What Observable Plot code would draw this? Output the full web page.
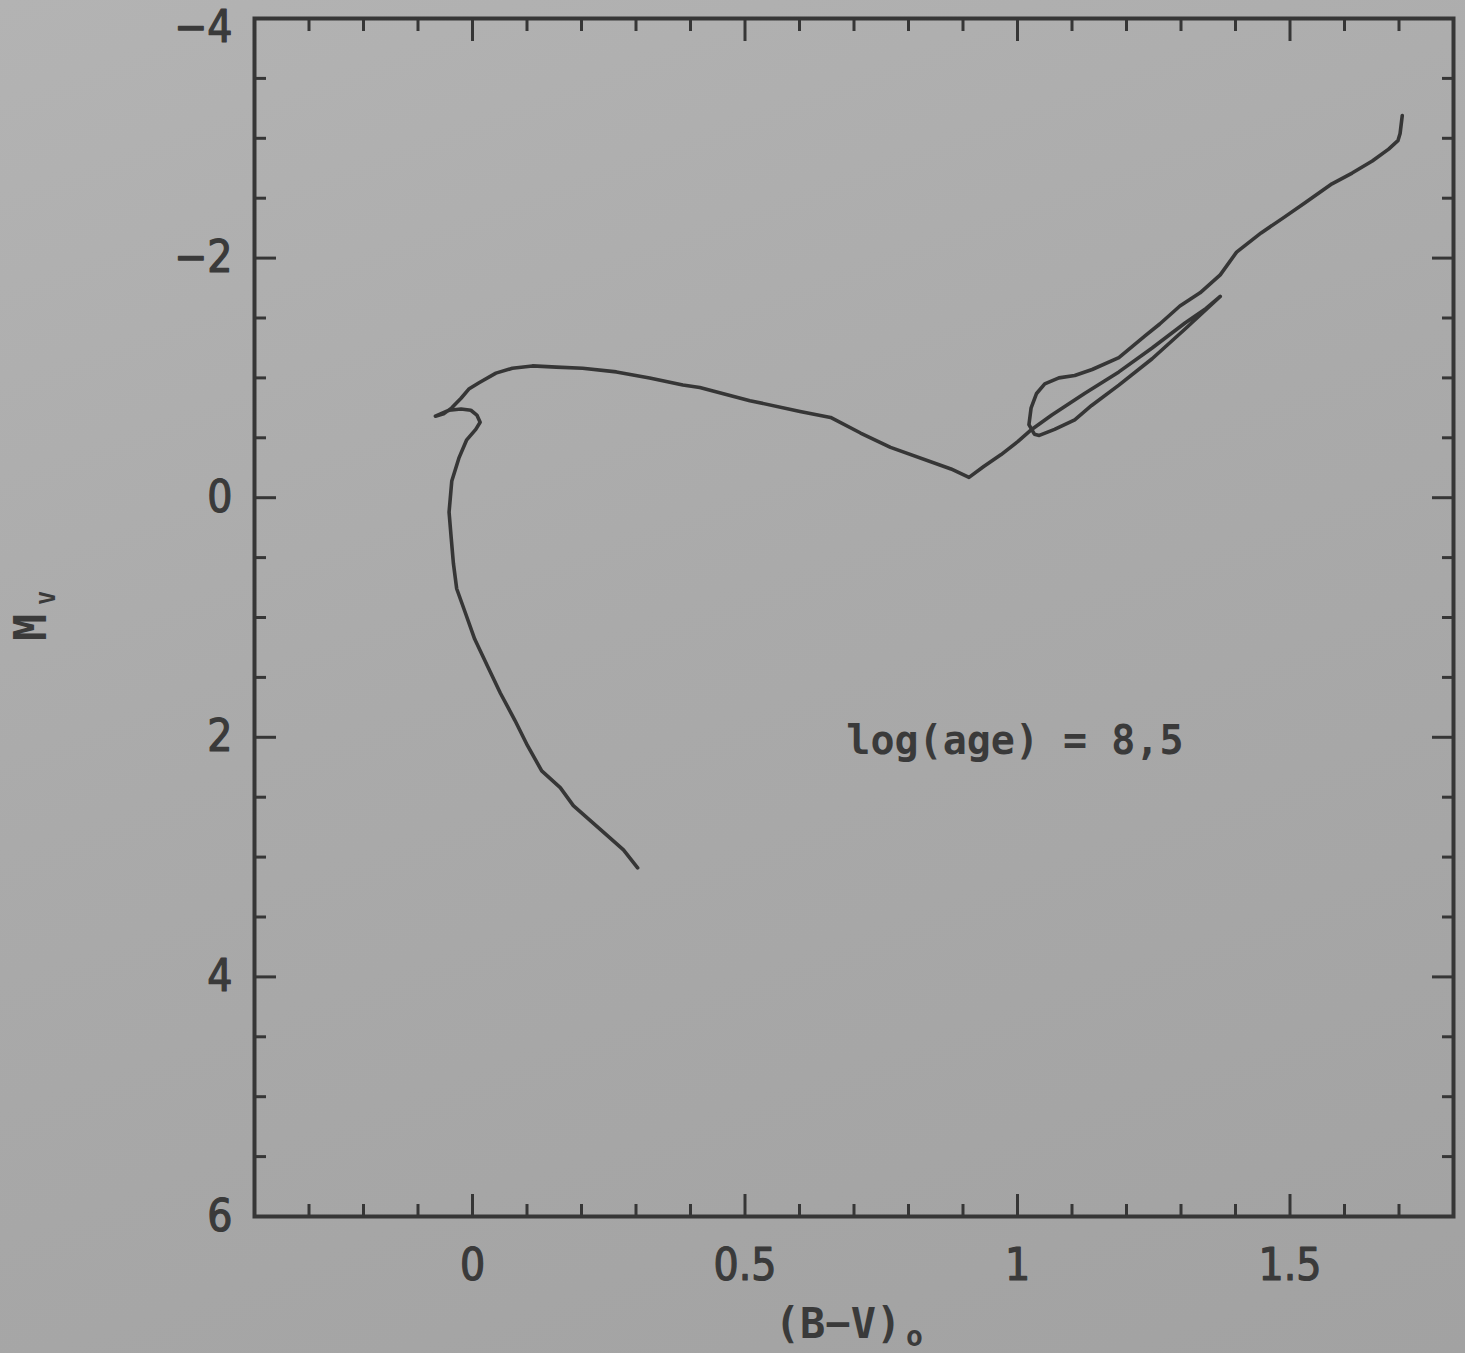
<!DOCTYPE html>
<html>
<head>
<meta charset="utf-8">
<script src="https://cdn.jsdelivr.net/npm/d3@7"></script>
<script src="https://cdn.jsdelivr.net/npm/@observablehq/plot@0.6"></script>
<style>
  html, body { margin: 0; padding: 0; }
  body {
    width: 1465px; height: 1353px; overflow: hidden;
    background: linear-gradient(160deg, #b3b3b3 0%, #aaaaaa 45%, #a2a2a2 100%);
  }
  #chart svg { display: block; }
</style>
</head>
<body>
<div id="chart"></div>
<script>
// Isochrone, log(age) = 8.5 : (B-V)o colour and absolute magnitude Mv along the track
const bvColor = [0.303,0.277,0.235,0.185,0.161,0.127,0.101,0.078,0.051,0.027,
  0.004,-0.014,-0.029,-0.035,-0.039,-0.043,-0.038,-0.025,-0.011,0.006,0.014,
  0.008,-0.003,-0.021,-0.043,-0.068,-0.053,-0.038,-0.021,-0.006,0.012,
  0.043,0.073,0.110,0.154,0.202,0.264,0.325,0.386,0.417,0.509,
  0.601,0.657,0.712,0.767,0.878,0.911,0.938,0.970,1.001,1.026,
  1.063,1.123,1.186,1.247,1.308,1.346,1.372,1.308,1.247,1.186,
  1.136,1.105,1.068,1.040,1.031,1.021,1.025,1.035,1.050,1.076,
  1.105,1.137,1.186,1.234,1.261,1.298,1.335,1.372,1.402,1.447,
  1.489,1.527,1.577,1.614,1.651,1.681,1.698,1.702,1.706];
const absMagV = [3.09,2.94,2.77,2.57,2.42,2.28,2.07,1.86,1.63,1.40,
  1.18,0.95,0.76,0.55,0.34,0.12,-0.14,-0.33,-0.48,-0.57,-0.63,
  -0.69,-0.73,-0.74,-0.73,-0.68,-0.70,-0.75,-0.83,-0.91,-0.96,
  -1.04,-1.08,-1.10,-1.09,-1.08,-1.05,-1.00,-0.94,-0.92,-0.81,
  -0.72,-0.67,-0.54,-0.42,-0.24,-0.17,-0.26,-0.36,-0.47,-0.57,
  -0.69,-0.87,-1.05,-1.25,-1.46,-1.58,-1.68,-1.41,-1.16,-0.94,
  -0.77,-0.65,-0.57,-0.52,-0.53,-0.61,-0.75,-0.87,-0.95,-1.00,
  -1.02,-1.07,-1.17,-1.35,-1.45,-1.60,-1.71,-1.86,-2.05,-2.21,
  -2.34,-2.46,-2.62,-2.71,-2.81,-2.91,-2.98,-3.04,-3.19];

const xDomain = [-0.4, 1.8];
const yDomain = [6, -4];
const xMajorTicks = [0, 0.5, 1, 1.5];
const xTickLabels = ["0", "0.5", "1", "1.5"];
const xMinorTicks = [-0.3, -0.2, -0.1, 0.1, 0.2, 0.3, 0.4, 0.6, 0.7, 0.8, 0.9, 1.1, 1.2, 1.3, 1.4, 1.6, 1.7];
const yMajorTicks = [-4, -2, 0, 2, 4, 6];
const yTickLabels = ["\u22124", "\u22122", "0", "2", "4", "6"];
const yMinorTicks = [-3.5, -3, -2.5, -1.5, -1, -0.5, 0.5, 1, 1.5, 2.5, 3, 3.5, 4.5, 5, 5.5];
const annotations = [{x: 0.686, y: 2.14, text: "log(age) = 8,5"}];
const xTitle = ["(B\u2212V)"];
const xTitleSub = ["o"];
const yTitle = ["M"];
const yTitleSub = ["V"];

const track = bvColor.map((bv, i) => ({bv, mv: absMagV[i]}));

const ink = "#363636";
const textInk = "#3a3a3a";
const tickFont = "'Liberation Sans Narrow', 'DejaVu Sans Condensed', 'Liberation Sans', sans-serif";
const labelFont = "'DejaVu Sans Mono', 'Liberation Mono', monospace";

const tickText = {fill: textInk, fontSize: 44, fontFamily: tickFont, textStroke: textInk, textStrokeWidth: 1.2, label: null};

const chart = Plot.plot({
  width: 1465,
  height: 1353,
  marginLeft: 254,
  marginRight: 12,
  marginTop: 18,
  marginBottom: 137,
  style: {background: "transparent", fontFamily: tickFont, fontSize: "44px", color: textInk},
  x: {domain: xDomain},
  y: {domain: yDomain},
  marks: [
    Plot.frame({stroke: ink, strokeWidth: 4}),
    // inward ticks, all four sides
    Plot.axisX(xMajorTicks, {anchor: "bottom", tickSize: -22, fill: "none", stroke: ink, strokeWidth: 3, label: null}),
    Plot.axisX(xMinorTicks, {anchor: "bottom", tickSize: -12, fill: "none", stroke: ink, strokeWidth: 3, label: null}),
    Plot.axisX(xMajorTicks, {anchor: "top", tickSize: -22, fill: "none", stroke: ink, strokeWidth: 3, label: null}),
    Plot.axisX(xMinorTicks, {anchor: "top", tickSize: -12, fill: "none", stroke: ink, strokeWidth: 3, label: null}),
    Plot.axisY(yMajorTicks, {anchor: "left", tickSize: -22, fill: "none", stroke: ink, strokeWidth: 3, label: null}),
    Plot.axisY(yMinorTicks, {anchor: "left", tickSize: -12, fill: "none", stroke: ink, strokeWidth: 3, label: null}),
    Plot.axisY(yMajorTicks, {anchor: "right", tickSize: -22, fill: "none", stroke: ink, strokeWidth: 3, label: null}),
    Plot.axisY(yMinorTicks, {anchor: "right", tickSize: -12, fill: "none", stroke: ink, strokeWidth: 3, label: null}),
    // tick labels
    Plot.axisX(xMajorTicks, {anchor: "bottom", tickSize: 0, tickPadding: 32,
      tickFormat: (d, i) => xTickLabels[i], ...tickText}),
    Plot.axisY(yMajorTicks.slice(1), {anchor: "left", tickSize: 0, tickPadding: 22,
      tickFormat: (d, i) => yTickLabels[i + 1], ...tickText}),
    Plot.axisY(yMajorTicks.slice(0, 1), {anchor: "left", tickSize: 0, tickPadding: 22, dy: 9,
      tickFormat: (d, i) => yTickLabels[i], ...tickText}),
    // the isochrone
    Plot.line(track, {x: "bv", y: "mv", curve: "linear", stroke: ink, strokeWidth: 3.6,
      strokeLinejoin: "round", strokeLinecap: "round"}),
    // annotation
    Plot.text(annotations, {x: "x", y: "y", text: "text", textAnchor: "start", lineAnchor: "bottom",
      fill: textInk, fontFamily: labelFont, fontWeight: "bold", fontSize: 40}),
    // axis titles
    Plot.text(xTitle, {text: d => d, frameAnchor: "bottom", dx: -16, dy: 121, lineAnchor: "bottom",
      fill: textInk, fontFamily: labelFont, fontWeight: "bold", fontSize: 42}),
    Plot.text(xTitleSub, {text: d => d, frameAnchor: "bottom", dx: 52, dy: 129, textAnchor: "start", lineAnchor: "bottom",
      fill: textInk, fontFamily: labelFont, fontWeight: "bold", fontSize: 28}),
    Plot.text(yTitle, {text: d => d, frameAnchor: "left", rotate: -90, dx: -209, dy: 23.5,
      textAnchor: "start", lineAnchor: "bottom",
      fill: textInk, fontFamily: labelFont, fontWeight: "bold", fontSize: 45}),
    Plot.text(yTitleSub, {text: d => d, frameAnchor: "left", rotate: -90, dx: -200, dy: -13,
      textAnchor: "start", lineAnchor: "bottom",
      fill: textInk, fontFamily: labelFont, fontWeight: "bold", fontSize: 22})
  ]
});
document.getElementById("chart").append(chart);
</script>
</body>
</html>
